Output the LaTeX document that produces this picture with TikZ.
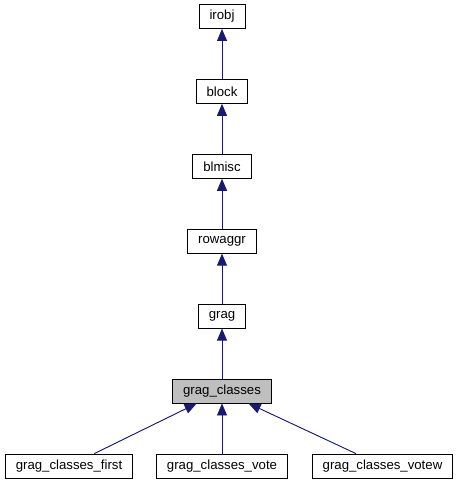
\documentclass[tikz,border=0pt]{standalone}
\usepackage{fontspec}
\setmainfont{Liberation Sans}
\usepackage{tikz}
\usetikzlibrary{arrows.meta,positioning}
\definecolor{MidnightBlue}{HTML}{191970}

\begin{document}
\begin{tikzpicture}[
  x=1pt, y=1pt,
  node distance=50pt,
  cls/.style={rectangle, draw=black, line width=0.9pt, fill=white,
              font=\fontsize{13.2}{15}\selectfont, inner xsep=10.5pt, inner ysep=0pt,
              minimum height=24pt},
  cur/.style={cls, fill=black!25},
  arr/.style={{Triangle[length=12pt,width=10pt]}-, line width=0.9pt, draw=MidnightBlue, fill=MidnightBlue}
]
\useasboundingbox (0,0) rectangle (459,-485);
% class chain
\node[cur] (gragcls) at (222,-391) {grag\_classes};
\node[cls, above=of gragcls] (grag) {grag};
\node[cls, above=of grag] (rowaggr) {rowaggr};
\node[cls, above=of rowaggr] (blmisc) {blmisc};
\node[cls, above=of blmisc] (block) {block};
\node[cls, above=of block] (irobj) {irobj};
% derived classes
\node[cls] (first) at (69,-466) {grag\_classes\_first};
\node[cls] (vote) at (222,-466) {grag\_classes\_vote};
\node[cls] (votew) at (382.5,-466) {grag\_classes\_votew};
\draw[arr] (irobj) -- (block);
\draw[arr] (block) -- (blmisc);
\draw[arr] (blmisc) -- (rowaggr);
\draw[arr] (rowaggr) -- (grag);
\draw[arr] (grag) -- (gragcls);
\draw[arr] (gragcls) -- (first);
\draw[arr] (gragcls) -- (vote);
\draw[arr] (gragcls) -- (votew);
\end{tikzpicture}
\end{document}
